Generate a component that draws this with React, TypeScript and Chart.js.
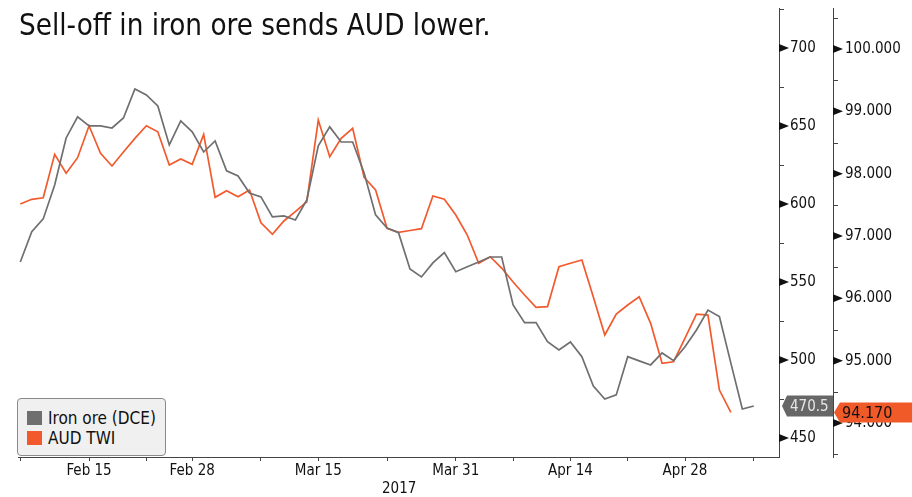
import React, { useEffect, useRef } from 'react';
import { Chart, registerables } from 'chart.js';

Chart.register(...registerables);

// Weekday dates (2017) shown on the x axis
const dates = [
  'Feb 7', 'Feb 8', 'Feb 9', 'Feb 10', 'Feb 13', 'Feb 14', 'Feb 15', 'Feb 16', 'Feb 17',
  'Feb 20', 'Feb 21', 'Feb 22', 'Feb 23', 'Feb 24', 'Feb 27', 'Feb 28',
  'Mar 1', 'Mar 2', 'Mar 3', 'Mar 6', 'Mar 7', 'Mar 8', 'Mar 9', 'Mar 10',
  'Mar 13', 'Mar 14', 'Mar 15', 'Mar 16', 'Mar 17', 'Mar 20', 'Mar 21', 'Mar 22',
  'Mar 23', 'Mar 24', 'Mar 27', 'Mar 28', 'Mar 29', 'Mar 30', 'Mar 31',
  'Apr 3', 'Apr 4', 'Apr 5', 'Apr 6', 'Apr 7', 'Apr 10', 'Apr 11', 'Apr 12', 'Apr 13', 'Apr 14',
  'Apr 17', 'Apr 18', 'Apr 19', 'Apr 20', 'Apr 21', 'Apr 24', 'Apr 25', 'Apr 26', 'Apr 27', 'Apr 28',
  'May 1', 'May 2', 'May 3', 'May 4', 'May 5', 'May 8',
];

const ironOre = [
  562.8, 582.2, 590.4, 612.2, 642.3, 655.8, 650, 650, 648.7, 655.1,
  673.7, 669.9, 662.8, 637.8, 653.2, 646.2, 633.3, 640.4, 621.2, 617.9,
  607, 604.5, 591.7, 592.3, 589.7, 602.6, 637.2, 649.4, 639.7, 639.7,
  619.9, 593, 584.6, 581.6, 558.3, 553.2, 562.2, 568.8, 556.6, 559.8,
  562.8, 566, 566, 535.3, 523.9, 523.9, 511.7, 506.4, 511.5, 502.1,
  483.3, 475, 477.6, 502.1, 499.4, 496.8, 504.5, 499.6, 508.5, 519.2,
  532, 527.8, 498, 468.6, 470.5,
];

const audTwi = [
  97.513, 97.589, 97.614, 98.311, 98.006, 98.256, 98.769, 98.327, 98.123, 98.347,
  98.567, 98.769, 98.673, 98.139, 98.235, 98.15, 98.631, 97.621, 97.727, 97.63,
  97.738, 97.213, 97.027, 97.241, 97.39, 97.55, 98.861, 98.272, 98.567, 98.728,
  97.942, 97.738, 97.123, 97.059, 97.088, 97.117, 97.642, 97.589, 97.337, 97.016,
  96.562, 96.668, 96.486, 96.262, 96.053, 95.856, 95.866, 96.507, 96.562, 96.615,
  96.021, 95.412, 95.748, 95.893, 96.026, 95.599, 94.957, 94.983, 95.363, 95.748,
  95.732, 94.529, 94.17,
];

const xLabelDates = ['Feb 15', 'Feb 28', 'Mar 15', 'Mar 31', 'Apr 14', 'Apr 28'];
const xMinorDates = ['Feb 7', 'Feb 22', 'Mar 8', 'Mar 23', 'Apr 7', 'Apr 21', 'May 8'];
const xLabelText = ['Feb 15', 'Feb 28', 'Mar 15', 'Mar 31', 'Apr 14', 'Apr 28'];

const ironMajor = [450, 500, 550, 600, 650, 700];
const ironMinor = [475, 525, 575, 625, 675, 725];
const audMajor = [94, 95, 96, 97, 98, 99, 100];
const audMinor = [93.5, 94.5, 95.5, 96.5, 97.5, 98.5, 99.5, 100.5];

const FONT = "'DejaVu Sans Condensed', 'DejaVu Sans', sans-serif";
const GREY = '#6f6f6f';
const ORANGE = '#f25a2e';

const axisDecor = {
  id: 'axisDecor',
  afterDraw(chart: any) {
    const ctx = chart.ctx;
    const drawMarks = (scale: any, major: number[], minor: number[]) => {
      const ax = scale.left;
      ctx.save();
      ctx.fillStyle = '#111';
      ctx.strokeStyle = '#444';
      ctx.lineWidth = 1;
      major.forEach((v) => {
        const py = scale.getPixelForValue(v);
        ctx.beginPath();
        ctx.moveTo(ax, py - 4);
        ctx.lineTo(ax + 10, py);
        ctx.lineTo(ax, py + 4);
        ctx.closePath();
        ctx.fill();
      });
      minor.forEach((v) => {
        const py = Math.round(scale.getPixelForValue(v)) + 0.5;
        ctx.beginPath();
        ctx.moveTo(ax, py);
        ctx.lineTo(ax + 5, py);
        ctx.stroke();
      });
      ctx.restore();
    };
    const y1 = chart.scales.y1;
    const y2 = chart.scales.y2;
    drawMarks(y1, ironMajor, ironMinor);
    drawMarks(y2, audMajor, audMinor);

    // last-value tags
    ctx.save();
    ctx.textBaseline = 'middle';
    const lastIron = ironOre[ironOre.length - 1];
    const gy = y1.getPixelForValue(lastIron);
    const gx = y1.left;
    const gr = y2.left;
    ctx.fillStyle = '#676767';
    ctx.beginPath();
    ctx.moveTo(gx + 3, gy);
    ctx.lineTo(gx + 8, gy - 10.5);
    ctx.lineTo(gr, gy - 10.5);
    ctx.lineTo(gr, gy + 10.5);
    ctx.lineTo(gx + 8, gy + 10.5);
    ctx.closePath();
    ctx.fill();
    ctx.font = `15px ${FONT}`;
    ctx.fillStyle = '#e6e6e6';
    ctx.fillText(lastIron.toFixed(1), gx + 11, gy + 1);

    const lastAud = audTwi[audTwi.length - 1];
    const oy = y2.getPixelForValue(lastAud);
    const ox = y2.left;
    ctx.fillStyle = '#f05a28';
    ctx.beginPath();
    ctx.moveTo(ox + 1, oy);
    ctx.lineTo(ox + 7, oy - 10);
    ctx.lineTo(chart.width, oy - 10);
    ctx.lineTo(chart.width, oy + 10);
    ctx.lineTo(ox + 7, oy + 10);
    ctx.closePath();
    ctx.fill();
    ctx.font = `16px ${FONT}`;
    ctx.fillStyle = '#111';
    ctx.fillText(lastAud.toFixed(3), ox + 9, oy + 1);
    ctx.restore();
  },
};

const zeroPad = (s: any) => {
  s.paddingTop = 0;
  s.paddingBottom = 0;
  s.paddingLeft = 0;
  s.paddingRight = 0;
};

export default function App() {
  const ref = useRef<HTMLCanvasElement | null>(null);

  useEffect(() => {
    if (!ref.current) return;
    const chart = new Chart(ref.current, {
      type: 'line',
      data: {
        datasets: [
          {
            label: 'Iron ore (DCE)',
            data: ironOre.map((v, i) => ({ x: i, y: v })),
            borderColor: GREY,
            borderWidth: 1.7,
            pointRadius: 0,
            tension: 0,
            yAxisID: 'y1',
          },
          {
            label: 'AUD TWI',
            data: audTwi.map((v, i) => ({ x: i, y: v })),
            borderColor: ORANGE,
            borderWidth: 1.7,
            pointRadius: 0,
            tension: 0,
            yAxisID: 'y2',
          },
        ],
      },
      options: {
        responsive: false,
        devicePixelRatio: 1,
        animation: false,
        events: [],
        layout: { padding: { left: 18, top: 8, right: 0, bottom: 0 } },
        plugins: {
          legend: { display: false },
          tooltip: { enabled: false },
        },
        scales: {
          x: {
            type: 'linear',
            position: 'bottom',
            min: -0.2,
            max: dates.length + 1.2,
            afterFit: (s: any) => {
              s.height = 40;
              zeroPad(s);
            },
            afterBuildTicks: (s: any) => {
              const all = [...xMinorDates, ...xLabelDates].map((d) => dates.indexOf(d));
              all.sort((a, b) => a - b);
              s.ticks = all.map((v) => ({ value: v }));
            },
            grid: {
              display: true,
              drawOnChartArea: false,
              drawTicks: true,
              tickLength: 4,
              color: '#444',
            },
            border: { display: true, color: '#444', width: 1 },
            ticks: {
              autoSkip: false,
              maxRotation: 0,
              padding: 1,
              color: '#111',
              font: { family: FONT, size: 15 },
              callback: (value: any) => {
                const k = xLabelDates.findIndex((d) => dates.indexOf(d) === value);
                return k >= 0 ? xLabelText[k] : '';
              },
            },
          },
          y1: {
            type: 'linear',
            position: 'right',
            weight: 0,
            min: 437.8,
            max: 725.6,
            afterFit: (s: any) => {
              s.width = 54;
              zeroPad(s);
            },
            afterBuildTicks: (s: any) => {
              s.ticks = [...ironMajor, ...ironMinor].sort((a, b) => a - b).map((v) => ({ value: v }));
            },
            grid: { display: false, drawTicks: false },
            border: { display: true, color: '#444', width: 1 },
            ticks: {
              padding: 11,
              color: '#111',
              font: { family: FONT, size: 15 },
              callback: (value: any) => (ironMajor.includes(value) ? String(value) : ''),
            },
          },
          y2: {
            type: 'linear',
            position: 'right',
            weight: 1,
            min: 93.4545,
            max: 100.658,
            afterFit: (s: any) => {
              s.width = 79;
              zeroPad(s);
            },
            afterBuildTicks: (s: any) => {
              s.ticks = [...audMajor, ...audMinor].sort((a, b) => a - b).map((v) => ({ value: v }));
            },
            grid: { display: false, drawTicks: false },
            border: { display: true, color: '#444', width: 1 },
            ticks: {
              padding: 12,
              color: '#111',
              font: { family: FONT, size: 15 },
              callback: (value: any) => (audMajor.includes(value) ? Number(value).toFixed(3) : ''),
            },
          },
        },
      },
      plugins: [axisDecor],
    } as any);
    return () => chart.destroy();
  }, []);

  return (
    <div style={{ position: 'absolute', left: 0, top: 0, width: 912, height: 497, background: '#fff', fontFamily: FONT }}>
      <canvas ref={ref} width={912} height={497} style={{ display: 'block' }} />
      <div style={{ position: 'absolute', left: 19, top: 8, fontSize: 29.3, color: '#111', whiteSpace: 'nowrap' }}>
        Sell-off in iron ore sends AUD lower.
      </div>
      <div
        style={{
          position: 'absolute',
          left: 17,
          top: 398,
          width: 147,
          height: 56,
          background: '#f0f0f0',
          border: '1px solid #8a8a8a',
          borderRadius: 4,
          fontSize: 17,
          color: '#111',
        }}
      >
        <div style={{ position: 'absolute', left: 9, top: 11, display: 'flex', alignItems: 'center', height: 16, whiteSpace: 'nowrap' }}>
          <span style={{ display: 'inline-block', width: 15, height: 14, background: GREY, marginRight: 6 }} />
          Iron ore (DCE)
        </div>
        <div style={{ position: 'absolute', left: 9, top: 31, display: 'flex', alignItems: 'center', height: 16, whiteSpace: 'nowrap' }}>
          <span style={{ display: 'inline-block', width: 15, height: 14, background: ORANGE, marginRight: 6 }} />
          AUD TWI
        </div>
      </div>
      <div style={{ position: 'absolute', left: 382, top: 479, fontSize: 15, color: '#111' }}>2017</div>
    </div>
  );
}
